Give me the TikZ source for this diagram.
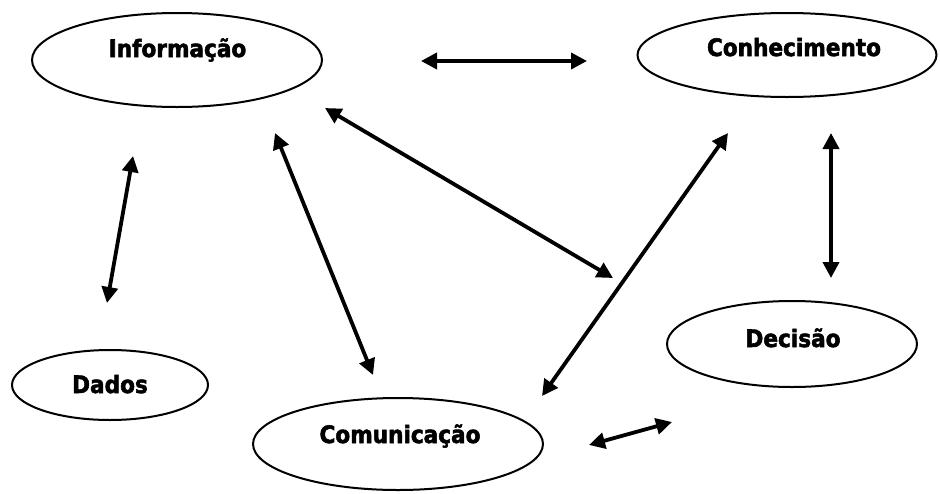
\documentclass[tikz,border=0pt]{standalone}
\usepackage{fontspec}
\newfontfamily\lblfont{DejaVu Sans Bold}[FakeBold=2.2, FakeStretch=0.9]
\usetikzlibrary{shapes.geometric,arrows.meta}

\tikzset{
  bubble/.style={draw=black, line width=2pt, ellipse, inner sep=0pt},
  caption/.style={anchor=base, font=\fontsize{24}{26}\lblfont},
  link/.style={line width=3.8pt, {Triangle[length=16pt,width=16pt]}-{Triangle[length=16pt,width=16pt]}}
}

\begin{document}
\begin{tikzpicture}[x=1pt, y=-1pt]
  \useasboundingbox (0,0) rectangle (940,493);

  % ellipses
  \node[bubble, minimum width=290pt, minimum height=94pt] (info) at (177,60) {};
  \node[bubble, minimum width=299pt, minimum height=84pt] (conh) at (787,55) {};
  \node[bubble, minimum width=196pt, minimum height=70pt] (dados) at (110,385) {};
  \node[bubble, minimum width=290pt, minimum height=92pt] (comu) at (398,444) {};
  \node[bubble, minimum width=250pt, minimum height=86pt] (deci) at (792,344) {};

  % labels
  \node[caption] (tinfo)  at (177.5,57) {Informação};
  \node[caption] (tconh)  at (794,56)   {Conhecimento};
  \node[caption] (tdados) at (110,393)  {Dados};
  \node[caption] (tcomu)  at (400,443)  {Comunicação};
  \node[caption] (tdeci)  at (793,347)  {Decisão};

  % arrow end points
  \coordinate (a1) at (421,61);  \coordinate (b1) at (587,61);
  \coordinate (a2) at (325,108); \coordinate (b2) at (613,278);
  \coordinate (a3) at (275,133); \coordinate (b3) at (373,375);
  \coordinate (a4) at (133,156); \coordinate (b4) at (107,303);
  \coordinate (a5) at (728,133); \coordinate (b5) at (542,396);
  \coordinate (a6) at (831,133); \coordinate (b6) at (831,278);
  \coordinate (a7) at (589,445); \coordinate (b7) at (672,422);

  % two-way arrows
  \draw[link] (a1) -- (b1);
  \draw[link] (a2) -- (b2);
  \draw[link] (a3) -- (b3);
  \draw[link] (a4) -- (b4);
  \draw[link] (a5) -- (b5);
  \draw[link] (a6) -- (b6);
  \draw[link] (a7) -- (b7);
\end{tikzpicture}
\end{document}
